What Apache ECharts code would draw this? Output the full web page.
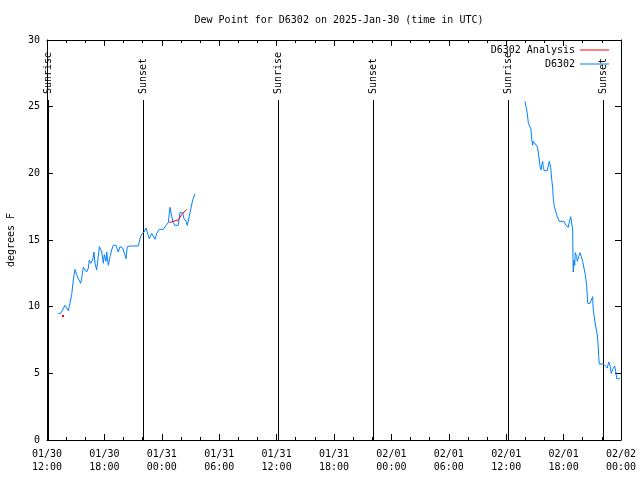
<!DOCTYPE html>
<html>
<head>
<meta charset="utf-8">
<script src="https://cdn.jsdelivr.net/npm/echarts@6/dist/echarts.min.js"></script>
<style>html,body{margin:0;padding:0;background:#fff}#c{width:640px;height:480px}</style>
</head>
<body>
<div id="c"></div>
<script>
// hours since 2025-01-30 12:00 UTC
var tickLabels = ['01/30\n12:00','01/30\n18:00','01/31\n00:00','01/31\n06:00','01/31\n12:00','01/31\n18:00','02/01\n00:00','02/01\n06:00','02/01\n12:00','02/01\n18:00','02/02\n00:00'];
var obsHours1 = [1.18,1.43,1.88,2.06,2.23,2.40,2.58,2.75,2.93,3.10,3.27,3.52,3.62,3.80,3.97,4.15,4.32,4.42,4.57,4.78,4.91,5.02,5.19,5.36,5.47,5.72,5.89,5.99,6.17,6.24,6.41,6.59,6.76,6.93,7.21,7.45,7.63,7.91,8.05,8.26,8.39,8.68,9.54,9.72,9.90,10.14,10.35,10.48,10.69,10.94,11.11,11.29,11.47,11.74,12.16,12.44,12.68,12.86,13.03,13.20,13.38,13.72,13.90,14.18,14.32,14.53,14.66,14.87,15.02,15.23,15.47];
var obsDew1 = [9.5,9.5,10.1,10.05,9.7,10.25,10.9,12.0,12.8,12.4,12.1,11.75,12.1,12.95,13.1,12.6,12.9,13.5,13.25,13.5,14.1,13.25,12.75,13.75,14.5,14.1,13.25,13.9,13.4,14.1,13.1,13.75,14.25,14.6,14.6,14.1,14.5,14.4,14.5,13.6,14.5,14.55,14.55,15.1,15.45,15.6,15.9,15.75,15.1,15.5,15.3,15.05,15.5,15.8,15.8,16.1,16.3,17.45,16.8,16.3,16.1,16.1,17.05,17.05,16.6,16.4,16.1,16.75,17.3,18.0,18.45];
var obsHours2 = [49.96,50.07,50.20,50.31,50.49,50.59,50.66,50.77,50.83,51.01,51.25,51.35,51.46,51.53,51.64,51.71,51.81,51.88,51.98,52.29,52.40,52.50,52.65,52.75,52.86,52.92,53.03,53.20,53.34,53.55,54.04,54.25,54.39,54.49,54.60,54.74,54.85,54.95,54.98,55.01,55.09,55.16,55.22,55.37,55.43,55.58,55.72,55.85,55.99,56.13,56.27,56.41,56.52,56.76,56.90,57.04,57.10,57.25,57.39,57.52,57.60,57.67,57.73,58.15,58.36,58.57,58.71,58.85,58.98,59.13,59.34,59.48,59.55,59.89];
var obsDew2 = [25.4,25.0,24.5,23.8,23.75,23.3,22.6,22.1,22.4,22.25,22.0,21.6,21.0,20.5,20.25,20.6,20.9,20.45,20.2,20.2,20.55,20.9,20.45,19.6,18.9,18.1,17.5,17.1,16.75,16.4,16.4,16.1,15.95,15.95,16.35,16.75,16.9,15.75,13.6,12.6,13.5,13.1,14.05,13.75,13.4,13.75,14.05,13.75,13.4,12.9,12.4,11.6,10.25,10.25,10.5,10.75,9.75,9.0,8.4,7.9,7.2,6.25,5.7,5.7,5.55,5.4,5.85,5.6,5.0,5.3,5.55,5.0,4.6,4.6];
var anaPointHours = [1.67];
var anaPointDew = [9.3];
var anaHours = [12.78,13.20,13.72,14.08,14.60];
var anaDew = [16.3,16.4,16.5,16.9,17.3];
var sunHours = [0.1,10.02,24.18,34.08,48.19,58.12];
var sunNames = ['Sunrise','Sunset','Sunrise','Sunset','Sunrise','Sunset'];

var FONT = 'DejaVu Sans Mono';
var RED = '#ff0000', BLUE = '#0080ff';
function zip(a,b){return a.map(function(v,i){return [v,b[i]];});}

var chart = echarts.init(document.getElementById('c'), null, {renderer:'canvas'});
var anaData = anaPointHours.map(function(h,i){return {value:[h,anaPointDew[i]], symbol:'rect', symbolSize:2};});
anaData.push([null,null]);
anaData = anaData.concat(zip(anaHours, anaDew));

var txt = {fontFamily: FONT, fontSize: 10, color: '#000'};
var axLine = {show: true, onZero: false, lineStyle: {color: '#000', width: 1}};
chart.setOption({
  animation: false,
  backgroundColor: '#fff',
  title: {text: 'Dew Point for D6302 on 2025-Jan-30 (time in UTC)', left: 334, top: 10, textAlign: 'center',
    textStyle: {fontFamily: FONT, fontSize: 10, fontWeight: 'normal', color: '#000'}},
  legend: [
    {data: [{name: 'D6302 Analysis', itemStyle: {color: RED}}], right: 26, top: 40, align: 'right', icon: 'rect', itemWidth: 29, itemHeight: 1, textStyle: txt, selectedMode: false},
    {data: [{name: 'D6302', itemStyle: {color: BLUE}}], right: 26, top: 54, align: 'right', icon: 'rect', itemWidth: 29, itemHeight: 1, textStyle: txt, selectedMode: false}
  ],
  grid: {left: 47, right: 19, top: 40, bottom: 40, containLabel: false, outerBoundsMode: 'none'},
  xAxis: [{
    type: 'value', min: 0, max: 60, interval: 6, position: 'bottom',
    axisLine: axLine,
    axisTick: {show: true, inside: true, length: 6, lineStyle: {color: '#000'}},
    minorTick: {show: true, splitNumber: 3, length: 3, lineStyle: {color: '#000'}},
    splitLine: {show: false},
    axisLabel: {margin: 8, lineHeight: 13, fontFamily: FONT, fontSize: 10, color: '#000',
      formatter: function(v){ return tickLabels[Math.round(v/6)]; }}
  },{
    type: 'value', min: 0, max: 60, interval: 6, position: 'top',
    axisLine: axLine,
    axisTick: {show: true, inside: true, length: 6, lineStyle: {color: '#000'}},
    minorTick: {show: true, splitNumber: 3, length: 3, lineStyle: {color: '#000'}},
    splitLine: {show: false}, axisLabel: {show: false}
  }],
  yAxis: [{
    type: 'value', min: 0, max: 30, interval: 5, position: 'left',
    name: 'degrees F', nameLocation: 'middle', nameGap: 31,
    nameTextStyle: {fontFamily: FONT, fontSize: 10, color: '#000'},
    axisLine: axLine,
    axisTick: {show: true, inside: true, length: 6, lineStyle: {color: '#000'}},
    splitLine: {show: false},
    axisLabel: {margin: 7, fontFamily: FONT, fontSize: 10, color: '#000'}
  },{
    type: 'value', min: 0, max: 30, interval: 5, position: 'right',
    axisLine: axLine,
    axisTick: {show: true, inside: true, length: 6, lineStyle: {color: '#000'}},
    splitLine: {show: false}, axisLabel: {show: false}
  }],
  series: [
    {
      name: 'Sun', type: 'custom', xAxisIndex: 0, yAxisIndex: 0, silent: true, z: 1,
      data: sunHours.map(function(h){return [h];}),
      encode: {x: 0},
      renderItem: function(params, api){
        var h = api.value(0);
        var p0 = api.coord([h, 0]);
        var p1 = api.coord([h, 25.5]);
        var xx = Math.round(p0[0]) + 0.5;
        return {type: 'group', children: [
          {type: 'line', shape: {x1: xx, y1: p0[1], x2: xx, y2: p1[1]}, style: {stroke: '#000', lineWidth: 1}},
          {type: 'text', x: xx, y: p1[1] - 6, rotation: Math.PI/2,
            style: {text: sunNames[params.dataIndex], align: 'left', verticalAlign: 'middle', font: '10px "DejaVu Sans Mono"', fill: '#000'}}
        ]};
      }
    },
    {
      name: 'D6302 Analysis', type: 'line', xAxisIndex: 0, yAxisIndex: 0, z: 3,
      data: anaData, symbol: 'none', showSymbol: true, connectNulls: false,
      lineStyle: {color: RED, width: 1}, itemStyle: {color: RED}
    },
    {
      name: 'D6302', type: 'line', xAxisIndex: 0, yAxisIndex: 0, z: 2,
      data: zip(obsHours1, obsDew1), symbol: 'none', showSymbol: false,
      lineStyle: {color: BLUE, width: 1}, itemStyle: {color: BLUE}
    },
    {
      name: 'D6302', type: 'line', xAxisIndex: 0, yAxisIndex: 0, z: 2,
      data: zip(obsHours2, obsDew2), symbol: 'none', showSymbol: false,
      lineStyle: {color: BLUE, width: 1}, itemStyle: {color: BLUE}
    }
  ]
});
</script>
</body>
</html>
